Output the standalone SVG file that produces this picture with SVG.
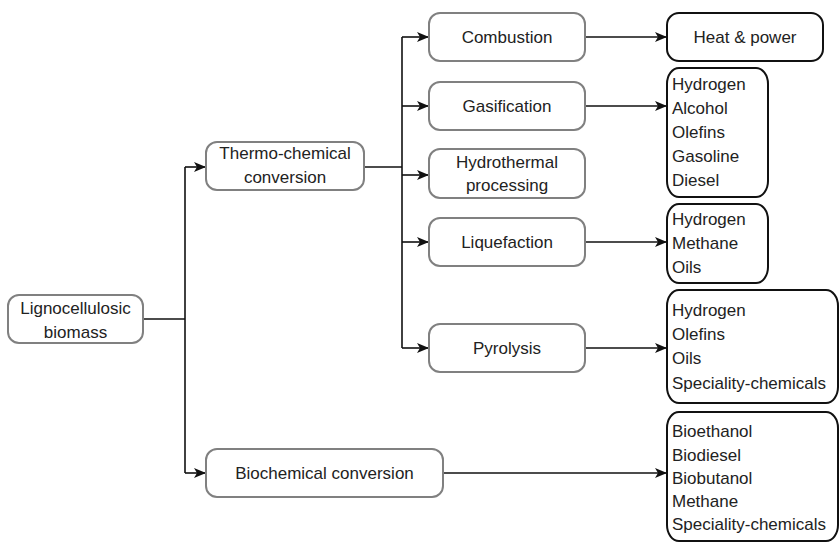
<svg xmlns="http://www.w3.org/2000/svg" width="840" height="543" viewBox="0 0 840 543">
<style>
.p{fill:#fff;stroke:#808080;stroke-width:2}
.o{fill:#fff;stroke:#111;stroke-width:2}
text{font-family:"Liberation Sans",Arial,sans-serif;font-size:17px;fill:#222}
.c{text-anchor:middle}
.ln{fill:none;stroke:#111;stroke-width:1.6}
</style>
<defs>
<marker id="ah" viewBox="0 0 12 10" refX="11" refY="5" markerWidth="12" markerHeight="10" markerUnits="userSpaceOnUse" orient="auto">
<path d="M0,0 L12,5 L0,10 L3,5 Z" fill="#111"/>
</marker>
</defs>
<g id="connectors">
<path class="ln" d="M143,319 H185"/>
<path class="ln" d="M185,167 V473"/>
<path class="ln" d="M185,167 H205" marker-end="url(#ah)"/>
<path class="ln" d="M185,473 H205" marker-end="url(#ah)"/>
<path class="ln" d="M364,167 H402"/>
<path class="ln" d="M402,37 V348"/>
<path class="ln" d="M402,37 H428" marker-end="url(#ah)"/>
<path class="ln" d="M402,106 H428" marker-end="url(#ah)"/>
<path class="ln" d="M402,175 H428" marker-end="url(#ah)"/>
<path class="ln" d="M402,242 H428" marker-end="url(#ah)"/>
<path class="ln" d="M402,348 H428" marker-end="url(#ah)"/>
<path class="ln" d="M585,37 H666" marker-end="url(#ah)"/>
<path class="ln" d="M585,106 H666" marker-end="url(#ah)"/>
<path class="ln" d="M585,242 H666" marker-end="url(#ah)"/>
<path class="ln" d="M585,348 H666" marker-end="url(#ah)"/>
<path class="ln" d="M443,473 H666" marker-end="url(#ah)"/>
</g>
<g id="lignocellulosic">
<rect class="p" x="8" y="295" width="135" height="48" rx="11"/>
<text class="c" x="75.5" y="314">Lignocellulosic</text>
<text class="c" x="75.5" y="338">biomass</text>
</g>
<g id="thermo">
<rect class="p" x="206" y="142" width="158" height="48" rx="11"/>
<text class="c" x="285" y="159">Thermo-chemical</text>
<text class="c" x="285" y="183">conversion</text>
</g>
<g id="biochemical">
<rect class="p" x="206" y="449" width="237" height="48" rx="11"/>
<text class="c" x="324.5" y="479">Biochemical conversion</text>
</g>
<g id="combustion">
<rect class="p" x="429" y="13" width="156" height="48" rx="11"/>
<text class="c" x="507" y="43">Combustion</text>
</g>
<g id="gasification">
<rect class="p" x="429" y="82" width="156" height="48" rx="11"/>
<text class="c" x="507" y="112">Gasification</text>
</g>
<g id="hydrothermal">
<rect class="p" x="429" y="149" width="156" height="49" rx="11"/>
<text class="c" x="507" y="168">Hydrothermal</text>
<text class="c" x="507" y="191">processing</text>
</g>
<g id="liquefaction">
<rect class="p" x="429" y="218" width="156" height="48" rx="11"/>
<text class="c" x="507" y="248">Liquefaction</text>
</g>
<g id="pyrolysis">
<rect class="p" x="429" y="324" width="156" height="48" rx="11"/>
<text class="c" x="507" y="354">Pyrolysis</text>
</g>
<g id="heat-power">
<rect class="o" x="667" y="13" width="156" height="48" rx="12"/>
<text class="c" x="745" y="43">Heat &amp; power</text>
</g>
<g id="gasification-products">
<rect class="o" x="667" y="68" width="101" height="129" rx="12" ry="16"/>
<text x="672" y="90">Hydrogen</text>
<text x="672" y="114">Alcohol</text>
<text x="672" y="138">Olefins</text>
<text x="672" y="162">Gasoline</text>
<text x="672" y="186">Diesel</text>
</g>
<g id="liquefaction-products">
<rect class="o" x="667" y="204" width="101" height="79" rx="12" ry="16"/>
<text x="672" y="225">Hydrogen</text>
<text x="672" y="249">Methane</text>
<text x="672" y="273">Oils</text>
</g>
<g id="pyrolysis-products">
<rect class="o" x="667" y="290" width="171" height="113" rx="12" ry="16"/>
<text x="672" y="316">Hydrogen</text>
<text x="672" y="340">Olefins</text>
<text x="672" y="364">Oils</text>
<text x="672" y="389">Speciality-chemicals</text>
</g>
<g id="biochemical-products">
<rect class="o" x="667" y="412" width="171" height="129" rx="12" ry="16"/>
<text x="672" y="437">Bioethanol</text>
<text x="672" y="461">Biodiesel</text>
<text x="672" y="484">Biobutanol</text>
<text x="672" y="507">Methane</text>
<text x="672" y="530">Speciality-chemicals</text>
</g>
</svg>
